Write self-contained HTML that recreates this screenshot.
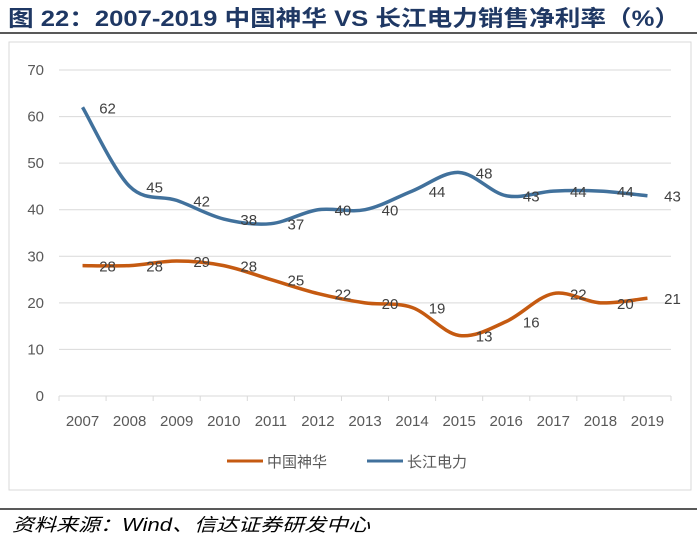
<!DOCTYPE html>
<html><head><meta charset="utf-8"><style>
body{margin:0;background:#fff;width:700px;height:541px;overflow:hidden;font-family:"Liberation Sans","Noto Sans CJK SC",sans-serif}
</style></head><body>
<svg width="700" height="541">
<text x="8" y="26" font-size="22" font-weight="bold" fill="#1f3864" textLength="672" lengthAdjust="spacingAndGlyphs" font-family="Liberation Sans,Noto Sans CJK SC,sans-serif">图  22：2007-2019 中国神华 VS 长江电力销售净利率（%）</text>
<line x1="0" y1="33" x2="697" y2="33" stroke="#222" stroke-width="1.5"/>
<rect x="9" y="42" width="682" height="448" fill="#fff" stroke="#d9d9d9"/>
<g id="grid"></g><g id="axes"></g><g id="series"></g>
<g>
<line x1="227" y1="461" x2="263" y2="461" stroke="#c55a11" stroke-width="3"/>
<text x="267" y="467" font-size="15" fill="#595959">中国神华</text>
<line x1="367" y1="461" x2="403" y2="461" stroke="#41719c" stroke-width="3"/>
<text x="407" y="467" font-size="15" fill="#595959">长江电力</text>
</g>
<line x1="0" y1="509" x2="697" y2="509" stroke="#222" stroke-width="1.5"/>
<text x="12" y="531" font-size="18" font-style="italic" fill="#000" textLength="358" lengthAdjust="spacingAndGlyphs" font-family="Liberation Sans,Noto Sans CJK SC,sans-serif">资料来源：Wind、信达证券研发中心</text>
</svg>
<script>
const years=["2007","2008","2009","2010","2011","2012","2013","2014","2015","2016","2017","2018","2019"];
const shenhua=[28,28,29,28,25,22,20,19,13,16,22,20,21];
const changjiang=[62,45,42,38,37,40,40,44,48,43,44,44,43];
const yTicks=[0,10,20,30,40,50,60,70];
const NS="http://www.w3.org/2000/svg";
const x0=59,x1=671,yb=396,yt=70;
const bw=(x1-x0)/years.length;
const X=i=>x0+bw*(i+0.5);
const Y=v=>yb-(v/70)*(yb-yt);
function mk(t,a,p){const e=document.createElementNS(NS,t);for(const k in a)e.setAttribute(k,a[k]);document.getElementById(p).appendChild(e);return e;}
yTicks.forEach(v=>{
const l=mk('line',{x1:x0,x2:x1,y1:Y(v),y2:Y(v),stroke:'#d9d9d9'},'grid');


const t=mk('text',{x:44,y:Y(v)+5,'font-size':15,fill:'#595959','text-anchor':'end'},'axes');t.textContent=v;


});
for(let i=0;i<=years.length;i++){
const l=mk('line',{x1:x0+bw*i,x2:x0+bw*i,y1:yb,y2:yb+5,stroke:'#d9d9d9'},'axes');


}
years.forEach((y,i)=>{
const t=mk('text',{x:X(i),y:426,'font-size':15,fill:'#595959','text-anchor':'middle'},'axes');t.textContent=y;


});
function path(vals){
const p=vals.map((v,i)=>[X(i),Y(v)]);
let d='M'+p[0][0]+','+p[0][1];
for(let i=0;i<p.length-1;i++){
const a=p[i-1]||p[i],b=p[i],c=p[i+1],e=p[i+2]||c,k=1/6;
d+=` C${b[0]+(c[0]-a[0])*k},${b[1]+(c[1]-a[1])*k} ${c[0]-(e[0]-b[0])*k},${c[1]-(e[1]-b[1])*k} ${c[0]},${c[1]}`;
}
return d;}
[[shenhua,'#c55a11','shenhua'],[changjiang,'#41719c','changjiang']].forEach(([vals,col,nm])=>{
const l=mk('path',{d:path(vals),fill:'none',stroke:col,'stroke-width':3.5},'series');


vals.forEach((v,i)=>{
const t=mk('text',{x:X(i)+25,y:Y(v)+6,'font-size':15,fill:'#404040','text-anchor':'middle'},'series');t.textContent=v;


});
});
</script>
</body></html>
